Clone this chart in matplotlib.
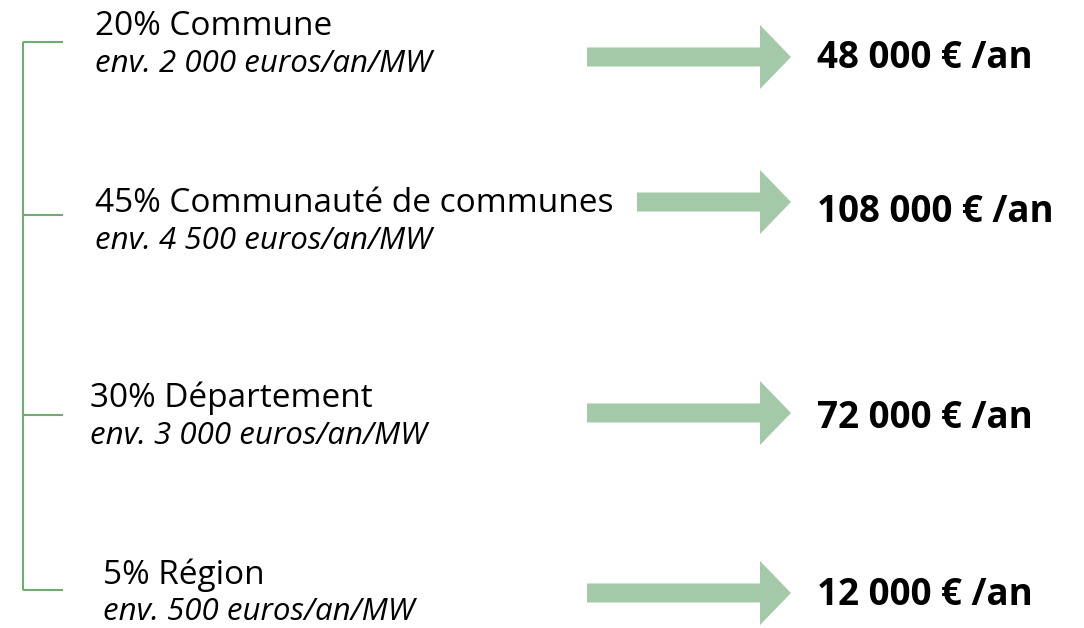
"""Répartition de l'IFER entre collectivités : accolade, libellés, flèches, montants."""

import matplotlib
matplotlib.use("Agg")
import matplotlib.pyplot as plt
from matplotlib.patches import FancyArrow

# données
shares = [20, 45, 30, 5]
names = ["Commune", "Communauté de communes", "Département", "Région"]
per_mw = [2000, 4500, 3000, 500]
totals = [48000, 108000, 72000, 12000]

# mise en page (pixels de la figure, lignes de base du texte)
W, H = 1084, 628
tick_y = [42, 215, 415, 590]
label_x = [95, 95, 90, 103]
title_y = [35, 212, 407, 584]
sub_y = [72, 249, 444, 620]
arrow_x0 = [587, 637, 587, 587]
arrow_y = [57, 202, 413, 593]
arrow_tip = 791
value_x = 817
value_y = [68, 222, 428, 605]

GREEN = "#70ad72"
ARROW = "#a3c9a8"
FONT = "Open Sans"


def fmt(n):
    return f"{n:,}".replace(",", " ")


fig = plt.figure(figsize=(W / 100, H / 100), dpi=100)
ax = fig.add_axes([0, 0, 1, 1])
ax.set_xlim(0, W)
ax.set_ylim(H, 0)
ax.axis("off")

# accolade
ax.plot([23, 23], [tick_y[0], tick_y[-1]], color=GREEN, lw=1.5, solid_capstyle="butt")
for y in tick_y:
    ax.plot([23, 63], [y, y], color=GREEN, lw=1.5, solid_capstyle="butt")

for i in range(len(shares)):
    ax.text(label_x[i], title_y[i], f"{shares[i]}% {names[i]}",
            family=FONT, fontsize=24, va="baseline", ha="left", color="black")
    ax.text(label_x[i], sub_y[i], f"env. {fmt(per_mw[i])} euros/an/MW",
            family=FONT, style="italic", fontsize=22.5, va="baseline", ha="left",
            color="black")
    length = arrow_tip - arrow_x0[i]
    ax.add_patch(FancyArrow(arrow_x0[i], arrow_y[i], length, 0, width=19,
                            head_width=64, head_length=31,
                            length_includes_head=True, color=ARROW, lw=0))
    ax.text(value_x, value_y[i], f"{fmt(totals[i])} € /an",
            family=FONT, weight="bold", fontsize=26.5, va="baseline", ha="left",
            color="black")

fig.savefig("out.png", dpi=100)
